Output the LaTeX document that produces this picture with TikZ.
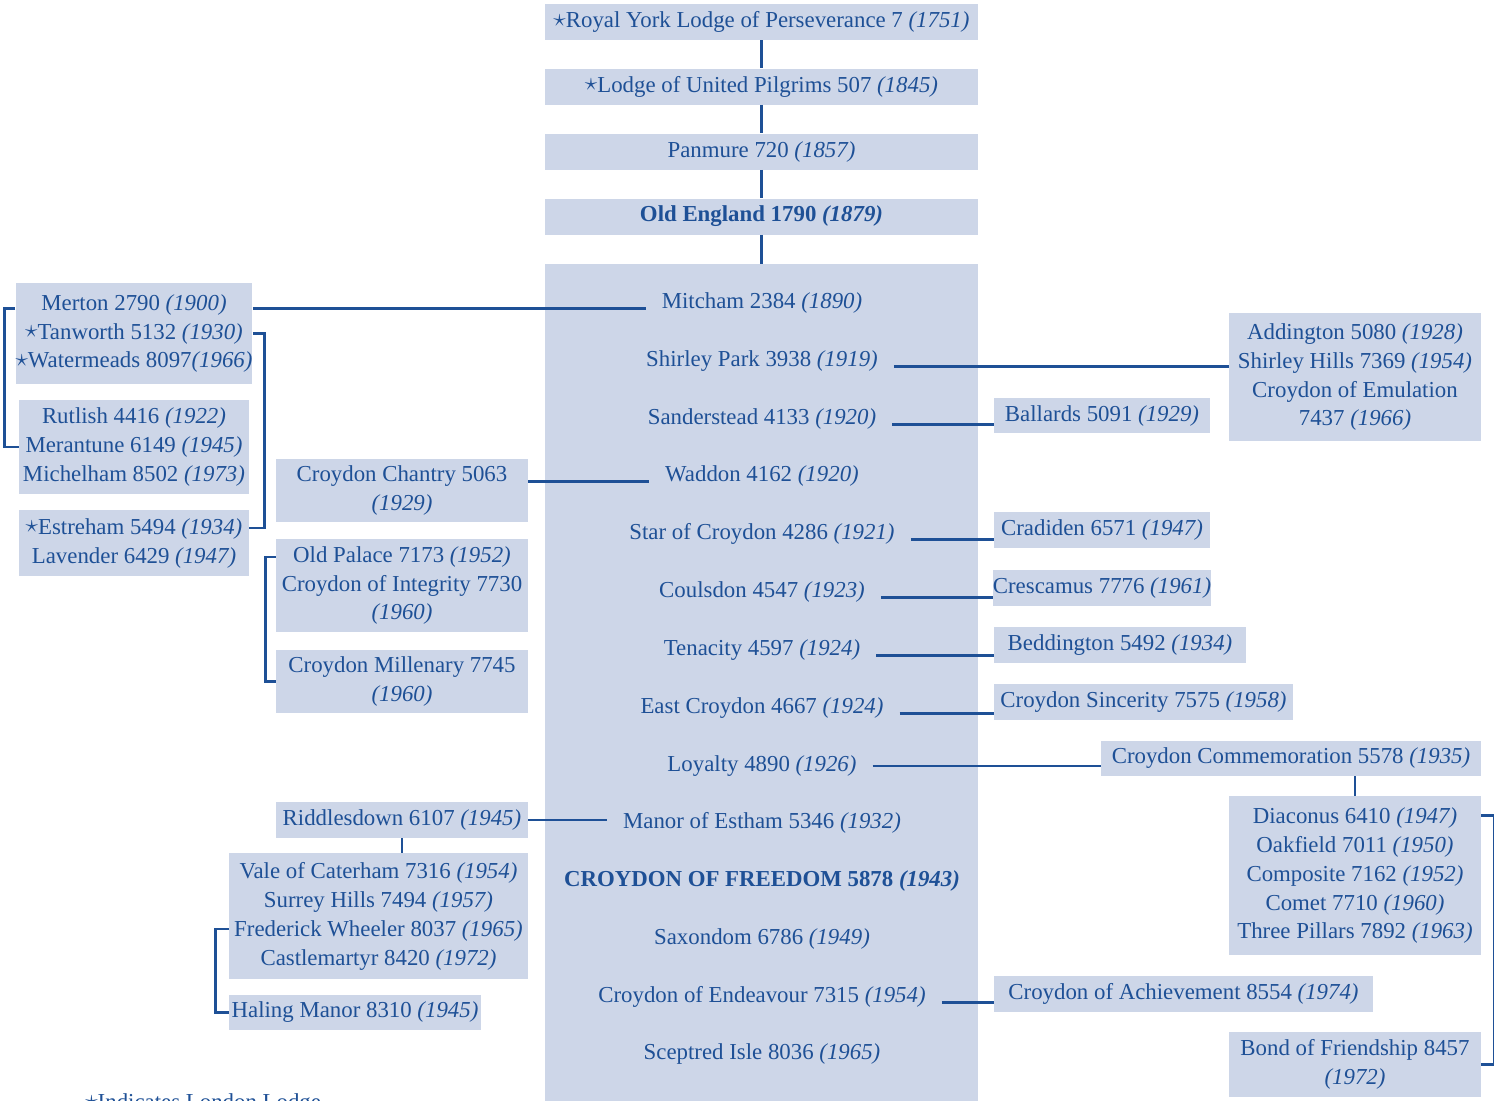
\documentclass[tikz,border=0pt]{standalone}
\usepackage{fontspec}
\setmainfont{Liberation Serif}
\usepackage{tikz}
\definecolor{lodgefill}{RGB}{205,214,232}
\definecolor{lodgeink}{RGB}{30,80,150}
\newcommand{\lodgeyear}[1]{\textit{(#1)}}
\newcommand{\lodgestar}{\raisebox{0.15ex}{\fontsize{14}{14}\selectfont$\star$}}

\begin{document}
\begin{tikzpicture}
[x=0.02cm, y=-0.02cm,
 lodge box/.style={rectangle, fill=lodgefill, text=lodgeink, inner sep=0pt, align=center, font=\fontsize{13}{16.5}\selectfont},
 lodge item/.style={text=lodgeink, inner xsep=9pt, inner ysep=0pt, font=\fontsize{13}{16.5}\selectfont},
 link/.style={draw=lodgeink, line width=1.6pt}]
\useasboundingbox (0,0) rectangle (1494,1100);

% the line down to Croydon of Freedom
\node[lodge box, minimum width=8.66cm, minimum height=0.72cm] (royal) at (761.5,22) {\lodgestar Royal York Lodge of Perseverance 7 \lodgeyear{1751}};
\node[lodge box, minimum width=8.66cm, minimum height=0.72cm] (pilgrims) at (761.5,86.5) {\lodgestar Lodge of United Pilgrims 507 \lodgeyear{1845}};
\node[lodge box, minimum width=8.66cm, minimum height=0.72cm] (panmure) at (761.5,151.5) {Panmure 720 \lodgeyear{1857}};
\node[lodge box, minimum width=8.66cm, minimum height=0.72cm] (oldengland) at (761.5,216.5) {\bfseries Old England 1790 \lodgeyear{1879}};
\node[lodge box, minimum width=8.66cm, minimum height=16.92cm] (croydon) at (761.5,687) {};

\node[lodge item] (mitcham) at (762,303) {Mitcham 2384 \lodgeyear{1890}};
\node[lodge item] (shirley) at (762,361) {Shirley Park 3938 \lodgeyear{1919}};
\node[lodge item] (sanderstead) at (762,419) {Sanderstead 4133 \lodgeyear{1920}};
\node[lodge item] (waddon) at (762,476) {Waddon 4162 \lodgeyear{1920}};
\node[lodge item] (star) at (762,534) {Star of Croydon 4286 \lodgeyear{1921}};
\node[lodge item] (coulsdon) at (762,592) {Coulsdon 4547 \lodgeyear{1923}};
\node[lodge item] (tenacity) at (762,650) {Tenacity 4597 \lodgeyear{1924}};
\node[lodge item] (eastcroydon) at (762,708) {East Croydon 4667 \lodgeyear{1924}};
\node[lodge item] (loyalty) at (762,766) {Loyalty 4890 \lodgeyear{1926}};
\node[lodge item] (manor) at (762,823) {Manor of Estham 5346 \lodgeyear{1932}};
\node[lodge item] (freedom) at (762,881) {\bfseries CROYDON OF FREEDOM 5878 \lodgeyear{1943}};
\node[lodge item] (saxondom) at (762,939) {Saxondom 6786 \lodgeyear{1949}};
\node[lodge item] (endeavour) at (762,997) {Croydon of Endeavour 7315 \lodgeyear{1954}};
\node[lodge item] (sceptred) at (762,1054) {Sceptred Isle 8036 \lodgeyear{1965}};

% left side
\node[lodge box, minimum width=4.6cm, minimum height=2.02cm] (merton) at (134,333.5) {Merton 2790 \lodgeyear{1900}\\ \lodgestar Tanworth 5132 \lodgeyear{1930}\\ \lodgestar Watermeads 8097\lodgeyear{1966}};
\node[lodge box, minimum width=4.6cm, minimum height=1.88cm] (rutlish) at (134,447) {Rutlish 4416 \lodgeyear{1922}\\ Merantune 6149 \lodgeyear{1945}\\ Michelham 8502 \lodgeyear{1973}};
\node[lodge box, minimum width=4.6cm, minimum height=1.32cm] (estreham) at (134,543) {\lodgestar Estreham 5494 \lodgeyear{1934}\\ Lavender 6429 \lodgeyear{1947}};
\node[lodge box, minimum width=5.04cm, minimum height=1.26cm] (chantry) at (402,490.5) {Croydon Chantry 5063\\ \lodgeyear{1929}};
\node[lodge box, minimum width=5.04cm, minimum height=1.86cm] (palace) at (402,585.5) {Old Palace 7173 \lodgeyear{1952}\\ Croydon of Integrity 7730\\ \lodgeyear{1960}};
\node[lodge box, minimum width=5.04cm, minimum height=1.26cm] (millenary) at (402,681.5) {Croydon Millenary 7745\\ \lodgeyear{1960}};
\node[lodge box, minimum width=5.04cm, minimum height=0.72cm] (riddles) at (402,820) {Riddlesdown 6107 \lodgeyear{1945}};
\node[lodge box, minimum width=5.98cm, minimum height=2.52cm] (vale) at (378.5,916) {Vale of Caterham 7316 \lodgeyear{1954}\\ Surrey Hills 7494 \lodgeyear{1957}\\ Frederick Wheeler 8037 \lodgeyear{1965}\\ Castlemartyr 8420 \lodgeyear{1972}};
\node[lodge box, minimum width=5.04cm, minimum height=0.7cm] (haling) at (355,1012.5) {Haling Manor 8310 \lodgeyear{1945}};

% right side
\node[lodge box, minimum width=5.04cm, minimum height=2.56cm] (addington) at (1355,377) {Addington 5080 \lodgeyear{1928}\\ Shirley Hills 7369 \lodgeyear{1954}\\ Croydon of Emulation\\ 7437 \lodgeyear{1966}};
\node[lodge box, minimum width=4.32cm, minimum height=0.7cm] (ballards) at (1102,415.5) {Ballards 5091 \lodgeyear{1929}};
\node[lodge box, minimum width=4.32cm, minimum height=0.72cm] (cradiden) at (1102,530) {Cradiden 6571 \lodgeyear{1947}};
\node[lodge box, minimum width=4.32cm, minimum height=0.72cm] (crescamus) at (1102,588) {Crescamus 7776 \lodgeyear{1961}};
\node[lodge box, minimum width=5.04cm, minimum height=0.72cm] (beddington) at (1120,645) {Beddington 5492 \lodgeyear{1934}};
\node[lodge box, minimum width=5.98cm, minimum height=0.72cm] (sincerity) at (1143.5,702) {Croydon Sincerity 7575 \lodgeyear{1958}};
\node[lodge box, minimum width=7.6cm, minimum height=0.7cm] (commem) at (1291,758.5) {Croydon Commemoration 5578 \lodgeyear{1935}};
\node[lodge box, minimum width=5.04cm, minimum height=3.18cm] (diaconus) at (1355,875.5) {Diaconus 6410 \lodgeyear{1947}\\ Oakfield 7011 \lodgeyear{1950}\\ Composite 7162 \lodgeyear{1952}\\ Comet 7710 \lodgeyear{1960}\\ Three Pillars 7892 \lodgeyear{1963}};
\node[lodge box, minimum width=7.58cm, minimum height=0.72cm] (achieve) at (1183.5,994) {Croydon of Achievement 8554 \lodgeyear{1974}};
\node[lodge box, minimum width=5.04cm, minimum height=1.3cm] (bond) at (1355,1064.5) {Bond of Friendship 8457\\ \lodgeyear{1972}};

\node[lodge item, anchor=base west, inner sep=0pt] (footnote) at (85,1109) {\lodgestar Indicates London Lodge};

% links
\path[link]
(royal) edge (pilgrims)
(pilgrims) edge (panmure)
(panmure) edge (oldengland)
(oldengland) edge (croydon)
(merton.east |- mitcham.base west) edge (mitcham.base west)
(chantry.east |- waddon.base west) edge (waddon.base west)
(riddles.east) edge (riddles.east -| manor.west)
(riddles.south) edge (riddles.south |- vale.north)
(shirley.base east) edge (shirley.base east -| addington.west)
(sanderstead.base east) edge (sanderstead.base east -| ballards.west)
(star.base east) edge (star.base east -| cradiden.west)
(coulsdon.base east) edge (coulsdon.base east -| crescamus.west)
(tenacity.base east) edge (tenacity.base east -| beddington.west)
(eastcroydon.base east) edge (eastcroydon.base east -| sincerity.west)
(loyalty.east) edge (loyalty.east -| commem.west)
(diaconus.north) edge (diaconus.north |- commem.south)
(endeavour.base east) edge (endeavour.base east -| achieve.west);
\draw[link] (merton.west |- mitcham.base west) -- ++(-11,0) |- (rutlish.west);
\draw[link] (merton.east) -- ++(12,0) |- ([yshift=0.3cm]estreham.east);
\draw[link] ([yshift=0.57cm]palace.west) -- ++(-10,0) |- (millenary.west);
\draw[link] ([yshift=-0.26cm]vale.west) -- ++(-13,0) |- (haling.west);
\draw[link] ([yshift=1.2cm]diaconus.east) -- ++(13,0) |- (bond.east);
\end{tikzpicture}
\end{document}
